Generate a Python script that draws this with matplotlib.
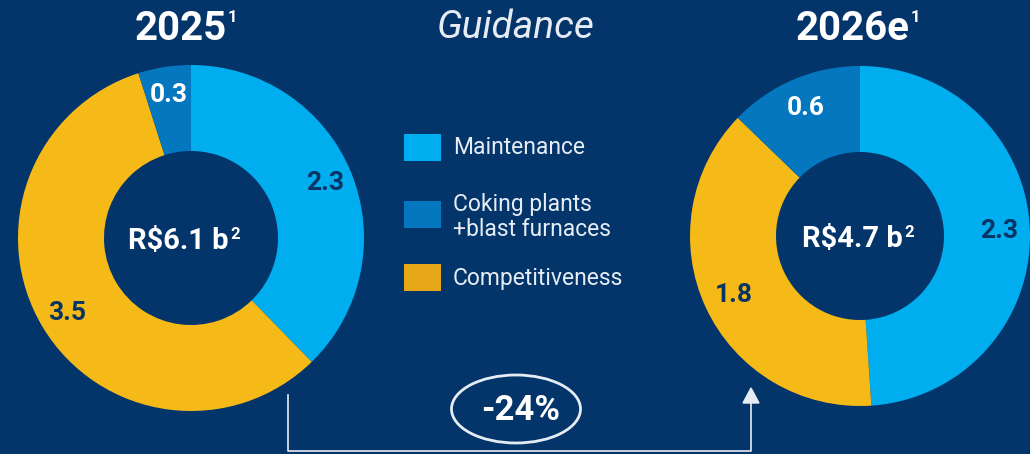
import numpy as np
from matplotlib import pyplot as plt
from matplotlib.patches import Ellipse

# data
categories = ["Maintenance", "Coking plants\n+blast furnaces", "Competitiveness"]
years = ["2025", "2026e"]
totals = ["R$6.1 b", "R$4.7 b"]
# order drawn clockwise from 12 o'clock: maintenance, competitiveness, coking
values_2025 = [2.3, 3.5, 0.3]
values_2026 = [2.3, 1.8, 0.6]
change = "-24%"

BG = "#03356a"
LIGHT = "#00aeef"
MID = "#0577be"
YELLOW = "#f5ba18"
NAVY = "#0a3463"
slice_colors = [LIGHT, YELLOW, MID]
legend_colors = [LIGHT, MID, "#e6a817"]
label_colors = [NAVY, NAVY, "white"]

plt.rcParams["font.family"] = ["Roboto", "DejaVu Sans"]

W, H = 1030, 454
fig = plt.figure(figsize=(W / 100, H / 100), dpi=100, facecolor=BG)
ax = fig.add_axes([0, 0, 1, 1])
ax.set_facecolor(BG)


def Y(ypx):
    return H - ypx


def donut(values, cx, cy, r_out, r_in, label_r):
    wedges, _ = ax.pie(values, colors=slice_colors, startangle=90, counterclock=False,
                       center=(cx, Y(cy)), radius=r_out, frame=True,
                       wedgeprops=dict(width=r_out - r_in, linewidth=0))
    for w, v, c in zip(wedges, values, label_colors):
        ang = np.deg2rad((w.theta1 + w.theta2) / 2)
        ax.text(cx + label_r * np.cos(ang), Y(cy) + label_r * np.sin(ang), f"{v:.1f}",
                color=c, fontsize=19, fontweight="bold", ha="center", va="center")


donut(values_2025, 191, 238, 173, 87, 145)
donut(values_2026, 860, 236, 170, 84, 139)


def sup_text(x, y, s, sup, size, supsize, gap):
    t = ax.text(x, Y(y), s, color="white", fontsize=size, fontweight="bold",
                ha="center", va="center")
    ax.annotate(sup, xy=(1, 1), xycoords=t, xytext=(gap, 0), textcoords="offset points",
                color="white", fontsize=supsize, fontweight="bold", ha="left", va="top")
    return t


sup_text(181, 29, years[0], "1", 29, 12, 0.6)
sup_text(853, 29, years[1], "1", 29, 12, 0.6)
sup_text(178, 241, totals[0], "2", 21, 12, 1.5)
sup_text(852, 239, totals[1], "2", 21, 12, 1.5)

ax.text(516, Y(28), "Guidance", color="#e6ecf3", fontsize=28, style="italic",
        ha="center", va="center")

# legend
leg_y = [147, 214, 277]
text_y = [148, 217, 279]
for c, lab, ly, ty in zip(legend_colors, categories, leg_y, text_y):
    ax.add_patch(plt.Rectangle((404, Y(ly) - 13.5), 37, 27, color=c, linewidth=0))
    ax.text(453, Y(ty), lab, color="#e6ecf3", fontsize=16.5, ha="left", va="center",
            linespacing=1.15)

# connector arrow
lc = "#e6ecf3"
ax.plot([288, 288, 751, 751], [Y(395), Y(451), Y(451), Y(402)], color=lc, linewidth=1.2)
ax.add_patch(plt.Polygon([[743, Y(403)], [759, Y(403)], [751, Y(388)]], color=lc))
ax.add_patch(Ellipse((516, Y(409)), 129, 68, fill=False, edgecolor=lc, linewidth=2))
ax.text(521, Y(410), change, color="white", fontsize=25, fontweight="bold",
        ha="center", va="center")

ax.set_xlim(0, W)
ax.set_ylim(0, H)
ax.axis("off")
fig.savefig("out.png", dpi=100, facecolor=BG)
